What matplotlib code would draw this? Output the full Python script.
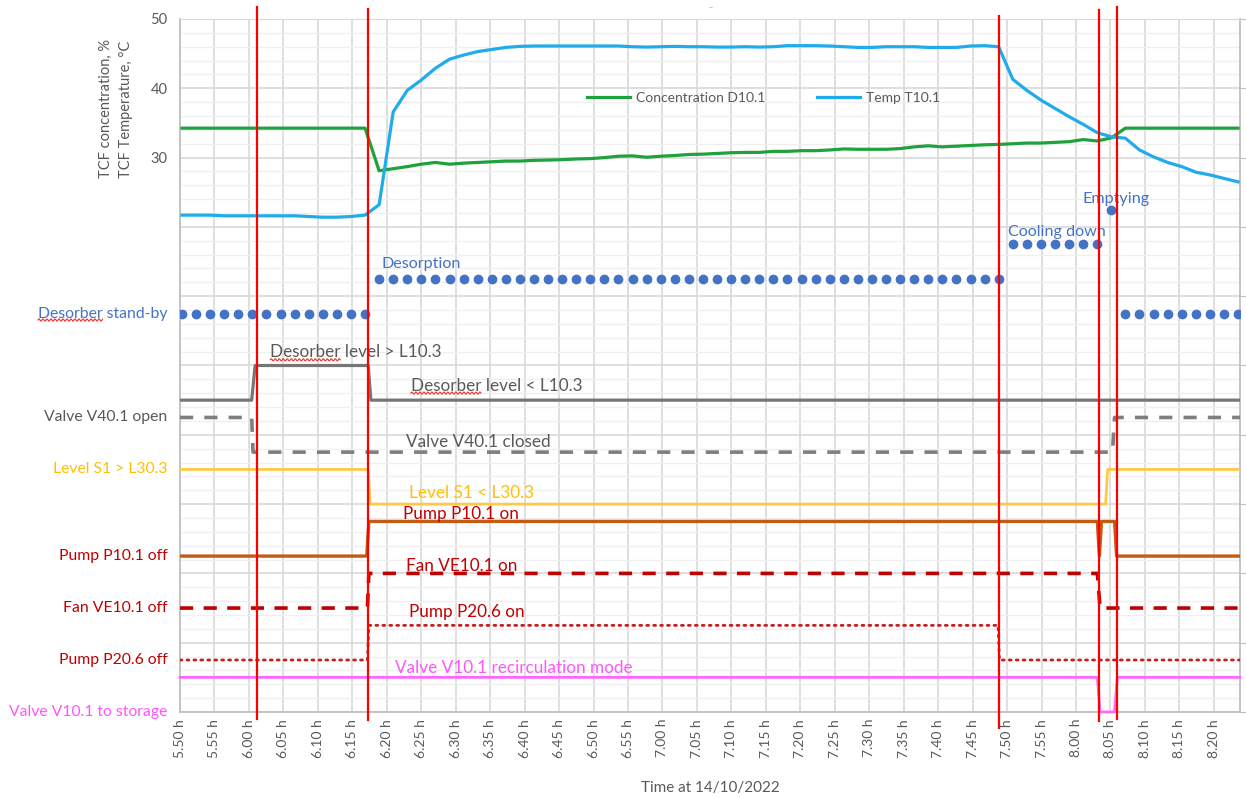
import numpy as np
import matplotlib
matplotlib.use("Agg")
import matplotlib.pyplot as plt
from matplotlib.lines import Line2D
from matplotlib.transforms import IdentityTransform

plt.rcParams['font.family'] = ['Lato', 'DejaVu Sans']
plt.rcParams['lines.scale_dashes'] = False

# ---------------------------------------------------------------------------
# Logged signals (time in minutes after 5:50)
# ---------------------------------------------------------------------------
SAMPLE_START = 0.29      # first logger sample, min after 5:50
SAMPLE_STEP = 2.043      # logger interval, min
N_SAMPLES = 76

temp_t101 = [
    21.7, 21.7, 21.7, 21.6, 21.6, 21.6, 21.6, 21.6, 21.6, 21.5, 21.4, 21.4, 21.5, 21.7,
    23.2, 36.6, 39.7, 41.2, 42.9, 44.2, 44.8, 45.3, 45.6, 45.9,
    46.05, 46.1, 46.1, 46.1, 46.1, 46.1, 46.1, 46.1, 46.0, 45.95,
    46.0, 46.05, 46.0, 46.0, 45.95, 45.95, 46.0, 45.95, 46.0, 46.15,
    46.15, 46.15, 46.1, 46.0, 45.9, 45.9, 46.0, 46.0, 46.0, 45.9,
    45.9, 45.9, 46.1, 46.15, 46.0, 41.3, 39.7, 38.3, 37.1, 35.9,
    34.8, 33.6, 33.0, 32.8, 31.1, 30.1, 29.3, 28.7, 27.9, 27.5, 27.0, 26.5,
]

conc_d101 = [
    34.25, 34.25, 34.25, 34.25, 34.25, 34.25, 34.25, 34.25, 34.25, 34.25, 34.25, 34.25, 34.25, 34.25,
    28.1, 28.4, 28.7, 29.05, 29.3, 29.05, 29.2, 29.3, 29.4, 29.5,
    29.5, 29.6, 29.65, 29.7, 29.8, 29.85, 30.0, 30.2, 30.25, 30.05,
    30.2, 30.3, 30.45, 30.5, 30.6, 30.7, 30.75, 30.75, 30.9, 30.9,
    31.0, 31.0, 31.1, 31.25, 31.2, 31.2, 31.2, 31.3, 31.55, 31.7,
    31.55, 31.65, 31.75, 31.85, 31.9, 32.0, 32.1, 32.1, 32.2, 32.3,
    32.6, 32.4, 32.85, 34.25, 34.25, 34.25, 34.25, 34.25, 34.25, 34.25, 34.25, 34.25,
]

# Operating phases: marker level and number of logger samples in each phase
phase_levels = [7.5, 12.5, 17.5, 22.5, 7.5]
phase_samples = [14, 45, 7, 1, 9]

# Binary signals: switching instants (min after 5:50) and plotted level
desorber_level_t = [0.0, 10.4, 10.9, 27.3, 27.7, 153.8]
desorber_level_v = [-5, -5, 0, 0, -5, -5]

valve_v401_t = [0.0, 10.4, 10.6, 135.3, 135.6, 153.8]
valve_v401_v = [-7.5, -7.5, -12.5, -12.5, -7.5, -7.5]

level_s1_t = [0.0, 27.3, 27.6, 134.3, 134.6, 153.8]
level_s1_v = [-15, -15, -20, -20, -15, -15]

pump_p101_t = [0.0, 27.1, 27.4, 133.1, 133.4, 133.7, 135.6, 135.9, 153.8]
pump_p101_v = [-27.5, -27.5, -22.5, -22.5, -27.5, -22.5, -22.5, -27.5, -27.5]

fan_ve101_t = [0.0, 27.2, 27.4, 133.1, 133.5, 153.8]
fan_ve101_v = [-35, -35, -30, -30, -35, -35]

pump_p206_t = [0.0, 27.2, 27.4, 118.7, 118.9, 153.8]
pump_p206_v = [-42.5, -42.5, -37.5, -37.5, -42.5, -42.5]

valve_v101_t = [0.0, 133.1, 133.5, 135.6, 136.0, 153.8]
valve_v101_v = [-45, -45, -50, -50, -45, -45]

# Phase boundaries (min after 5:50) with their drawn vertical extent
event_t = [11.18, 27.29, 118.76, 133.28, 135.89]
event_top = [51.7, 51.45, 50.4, 51.3, 51.7]
event_bottom = [-51.0, -51.2, -52.3, -51.3, -51.0]

# Axis ticks
x_ticks = list(range(0, 151, 5))
x_tick_labels = [f"{(5 * 60 + 50 + m) // 60}.{(5 * 60 + 50 + m) % 60:02d} h" for m in x_ticks]
y_ticks = list(range(-50, 51, 10))
y_tick_labels = ["" if v < 30 else str(v) for v in y_ticks]

# ---------------------------------------------------------------------------
GRAY_TXT = '#595959'
BLUE_TXT = '#4472C4'
DARK_RED = '#C00000'
ORANGE = '#FFC000'
MAGENTA = '#FF55FF'

fig = plt.figure(figsize=(12.46, 7.98), dpi=100)
ax = fig.add_axes([180 / 1246, 1 - 712 / 798, 1060 / 1246, 693 / 798])

ax.set_xlim(0, 153.8)
ax.set_ylim(-50, 50)

# grid
ax.set_yticks(y_ticks)
ax.set_yticks(np.arange(-50, 51, 2), minor=True)
ax.set_xticks(x_ticks)
ax.set_xticklabels(x_tick_labels, rotation=90, fontsize=10, color=GRAY_TXT)
ax.set_yticklabels(y_tick_labels, fontsize=10.5, color=GRAY_TXT)
ax.grid(True, which='major', axis='both', color='#D9D9D9', lw=1.2, zorder=0)
ax.grid(True, which='minor', axis='y', color='#EFEFEF', lw=0.9, zorder=0)
ax.set_axisbelow(True)
ax.tick_params(axis='x', length=0, pad=5)
ax.tick_params(axis='y', which='major', left=False, right=True, labelleft=True,
               length=4, color='#BFBFBF', pad=5)
ax.tick_params(axis='y', which='minor', left=False, right=False)
for side in ('left', 'bottom', 'right'):
    ax.spines[side].set_color('#BFBFBF')
    ax.spines[side].set_linewidth(1.3)
ax.spines['top'].set_color('#D9D9D9')

# measured curves
t_samples = SAMPLE_START + SAMPLE_STEP * np.arange(N_SAMPLES)
ax.plot(t_samples, conc_d101, color='#1FA23C', lw=2.3, zorder=4, solid_joinstyle='round')
ax.plot(t_samples, temp_t101, color='#20ACEB', lw=2.3, zorder=4, solid_joinstyle='round')

# phase markers
start = 0
for level, count in zip(phase_levels, phase_samples):
    ax.plot(t_samples[start:start + count], [level] * count, ls='none', marker='o',
            ms=6, color=BLUE_TXT, zorder=5)
    start += count

# binary signals
ax.plot(desorber_level_t, desorber_level_v, color='#767676', lw=2.3, zorder=4)
ax.plot(valve_v401_t, valve_v401_v, color='#7F7F7F', lw=2.6, dashes=(9.5, 8), zorder=4)
ax.plot(level_s1_t, level_s1_v, color='#FFC845', lw=2.0, zorder=4)
ax.plot(pump_p101_t, pump_p101_v, color='#C55A11', lw=2.4, zorder=4)
ax.plot(fan_ve101_t, fan_ve101_v, color=DARK_RED, lw=2.6, dashes=(9.5, 7.5), zorder=4)
ax.plot(pump_p206_t, pump_p206_v, color='#C81E1E', lw=2.0, dashes=(1.4, 3.6),
        dash_capstyle='round', zorder=4)
ax.plot(valve_v101_t, valve_v101_v, color='#FF66FF', lw=2.0, zorder=4, clip_on=False)

# phase boundaries
for x, top, bottom in zip(event_t, event_top, event_bottom):
    ax.plot([x, x], [bottom, top], color='#FF0000', lw=1.6, zorder=8, clip_on=False)

# labels left of the plot area
left_labels = [
    ("Desorber stand-by", 7.5, BLUE_TXT),
    ("Valve V40.1 open", -7.5, GRAY_TXT),
    ("Level S1 > L30.3", -15, ORANGE),
    ("Pump P10.1 off", -27.5, DARK_RED),
    ("Fan VE10.1 off", -35, DARK_RED),
    ("Pump P20.6 off", -42.5, DARK_RED),
    ("Valve V10.1 to storage", -50, MAGENTA),
]
left_texts = {}
for text, y, col in left_labels:
    left_texts[text] = ax.annotate(text, xy=(0, y), xycoords=('axes fraction', 'data'),
                                   xytext=(-9, 0), textcoords='offset points',
                                   ha='right', va='center', fontsize=11.3, color=col,
                                   annotation_clip=False)

# phase names
phase_names = [
    ("Desorption", 29.2, 14.6),
    ("Cooling down", 120.1, 19.2),
    ("Emptying", 130.9, 24.0),
]
for text, x, y in phase_names:
    ax.text(x, y, text, ha='left', va='center', fontsize=11.6, color=BLUE_TXT, zorder=6)

# signal states inside the plot area
inner_labels = [
    ("Desorber level > L10.3", 13.1, 1.9, GRAY_TXT),
    ("Desorber level < L10.3", 33.5, -2.9, GRAY_TXT),
    ("Valve V40.1 closed", 32.8, -11.0, GRAY_TXT),
    ("Level S1 < L30.3", 33.2, -18.4, ORANGE),
    ("Pump P10.1 on", 32.4, -21.5, DARK_RED),
    ("Fan VE10.1 on", 32.8, -28.9, DARK_RED),
    ("Pump P20.6 on", 33.2, -35.5, DARK_RED),
    ("Valve V10.1 recirculation mode", 31.2, -43.6, MAGENTA),
]
inner_texts = {}
for text, x, y, col in inner_labels:
    inner_texts[text] = ax.text(x, y, text, ha='left', va='center', fontsize=12.3,
                                color=col, zorder=6)

# legend
handles = [Line2D([], [], color='#1FA23C', lw=2.3), Line2D([], [], color='#20ACEB', lw=2.3)]
ax.legend(handles, ["Concentration D10.1", "Temp T10.1"], ncol=2, frameon=False,
          loc='center', bbox_to_anchor=(0.5505, 0.886), fontsize=10,
          handlelength=3.1, handletextpad=0.45, columnspacing=3.7, labelcolor=GRAY_TXT)

# axis titles
fig.text(116 / 1246, 1 - 109 / 798, "TCF concentration, %\nTCF Temperature, \u00b0C",
         rotation=90, ha='center', va='center', fontsize=10.5, color=GRAY_TXT,
         multialignment='center', linespacing=1.6)
ax.set_xlabel("Time at 14/10/2022", fontsize=11, color=GRAY_TXT, labelpad=17)
fig.text(710 / 1246, 1 - 8 / 798, "\u2013", ha='center', va='center', fontsize=7, color='#BFBFBF')

# wavy proofing underline beneath the word "Desorber"
fig.canvas.draw()
renderer = fig.canvas.get_renderer()


def squiggle(text_artist, word):
    probe = fig.text(0, 0, word, fontproperties=text_artist.get_fontproperties())
    width = probe.get_window_extent(renderer).width
    probe.remove()
    bbox = text_artist.get_window_extent(renderer)
    xs = np.arange(bbox.x0, bbox.x0 + width, 0.5)
    ys = bbox.y0 + 0.5 + 1.1 * np.sin((xs - bbox.x0) * np.pi / 2.0)
    fig.add_artist(Line2D(xs, ys, transform=IdentityTransform(), color='#F03030', lw=0.8))


squiggle(left_texts["Desorber stand-by"], "Desorber")
squiggle(inner_texts["Desorber level > L10.3"], "Desorber")
squiggle(inner_texts["Desorber level < L10.3"], "Desorber")

fig.savefig("out.png", dpi=100)
